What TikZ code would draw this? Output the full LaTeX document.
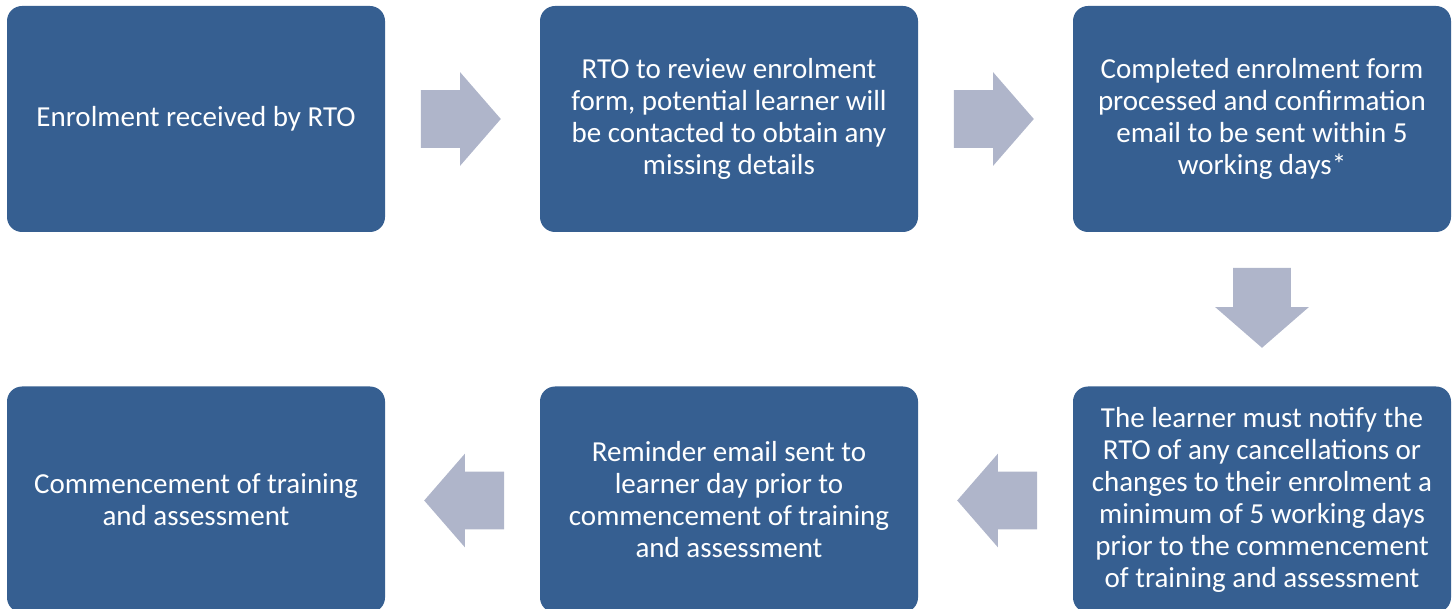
\documentclass[tikz,border=0pt]{standalone}
\usepackage{fontspec}
\setmainfont{Carlito}
\usetikzlibrary{shapes.arrows,calc}
\definecolor{stepblue}{HTML}{365F91}
\definecolor{arrowgrey}{HTML}{AFB5CA}

\begin{document}
\begin{tikzpicture}[x=0.5pt, y=-0.5pt,
    stage/.style={rectangle, rounded corners=7.5pt, fill=stepblue, text=white,
      minimum width=189pt, minimum height=113pt, inner sep=2pt, align=center,
      font=\fontsize{14.5}{16}\selectfont},
    flow/.style={single arrow, fill=arrowgrey, minimum height=40pt, anchor=tail,
      single arrow head extend=9pt, single arrow tip angle=98,
      inner xsep=0pt, inner ysep=14.25pt},
    flowdown/.style={flow, shape border rotate=270, inner xsep=14.25pt, inner ysep=0pt}]
      \useasboundingbox (0,0) rectangle (1453,609);

      \node[stage] at (196, 119)    (enrol)    {Enrolment received by RTO};
      \node[stage] at (729, 119)    (review)   {RTO to review enrolment\\form, potential learner will\\be contacted to obtain any\\missing details};
      \node[stage] at (1262, 119)   (confirm)  {Completed enrolment form\\processed and confirmation\\email to be sent within 5\\working days*};
      \node[stage] at (1262, 499.5) (notify)   {The learner must notify the\\RTO of any cancellations or\\changes to their enrolment a\\minimum of 5 working days\\prior to the commencement\\of training and assessment};
      \node[stage] at (729, 499.5)  (remind)   {Reminder email sent to\\learner day prior to\\commencement of training\\and assessment};
      \node[stage] at (196, 499.5)  (start)    {Commencement of training\\and assessment};

      \node[flow] at ($(enrol.east)+(35,0)$)    (fa) {};
      \node[flow] at ($(review.east)+(35,0)$)   (fb) {};
      \node[flowdown] at ($(confirm.south)+(0,35)$) (fc) {};
      \node[flow, shape border rotate=180] at ($(notify.west)+(-35,1)$) (fd) {};
      \node[flow, shape border rotate=180] at ($(remind.west)+(-35,1)$) (fe) {};
    \end{tikzpicture}
\end{document}
